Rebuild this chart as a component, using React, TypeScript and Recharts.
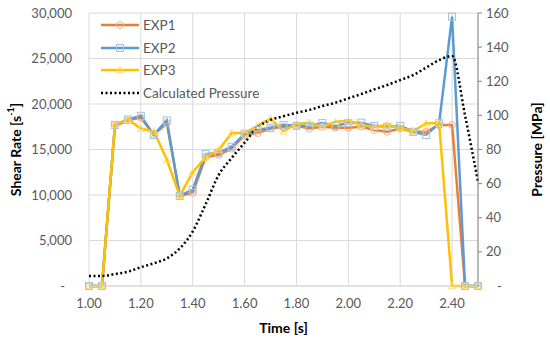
import React from "react";
import {
  ComposedChart,
  Line,
  XAxis,
  YAxis,
  CartesianGrid,
  Legend,
  Label,
} from "recharts";

// time [s], sampled every 0.05 s
const time = [
  1.0, 1.05, 1.1, 1.15, 1.2, 1.25, 1.3, 1.35, 1.4, 1.45, 1.5, 1.55, 1.6, 1.65, 1.7, 1.75,
  1.8, 1.85, 1.9, 1.95, 2.0, 2.05, 2.1, 2.15, 2.2, 2.25, 2.3, 2.35, 2.4, 2.45, 2.5,
];

// shear rate [1/s]
const exp1 = [
  0, 0, 17600, 18200, 18500, 16600, 17900, 9900, 10250, 14200, 14400, 15100, 16600, 16800,
  17300, 17500, 17600, 17300, 17500, 17400, 17400, 17500, 17150, 16950, 17300, 16950, 16950,
  17700, 17700, 0, 0,
];
const exp2 = [
  0, 0, 17700, 18300, 18700, 16600, 18200, 9900, 10600, 14500, 14650, 15300, 16750, 17150,
  17400, 17700, 17600, 17600, 17900, 17600, 17900, 17950, 17600, 17500, 17600, 16950, 16600,
  17880, 29600, 0, 0,
];
const exp3 = [
  0, 0, 17700, 18300, 17300, 17000, 13900, 9900, 12500, 14150, 14950, 16800, 16800, 17600,
  18400, 17000, 17800, 17950, 17500, 18050, 18150, 17700, 17500, 17700, 17400, 17000, 17880,
  17880, 0, 0, 0,
];

// calculated pressure [MPa]
const pressure = [
  5.9, 5.9, 7, 8.4, 11, 13.3, 16.2, 22, 32, 48, 65, 75, 84, 93, 97.3, 99.5, 101.5, 103.2,
  105.5, 107.4, 110, 112.5, 115.2, 117.8, 120.7, 123.6, 128, 132.4, 134.8, 100, 61,
];

const xTicks = [1.0, 1.2, 1.4, 1.6, 1.8, 2.0, 2.2, 2.4];
const leftTicks = [0, 5000, 10000, 15000, 20000, 25000, 30000];
const rightTicks = [0, 20, 40, 60, 80, 100, 120, 140, 160];
const legendOrder = ["exp1", "exp2", "exp3", "pressure"];

const data = time.map((t, i) => ({
  time: t,
  exp1: exp1[i],
  exp2: exp2[i],
  exp3: exp3[i],
  pressure: pressure[i],
}));

const FONT = "Lato, 'Open Sans', sans-serif";
const TEXT = "#595959";

const seriesStyle: Record<string, { color: string; marker: string; shape: string }> = {
  exp1: { color: "#ED7D31", marker: "#F4B183", shape: "circle" },
  exp2: { color: "#5B9BD5", marker: "#9DC3E6", shape: "square" },
  exp3: { color: "#FFC000", marker: "#FFD966", shape: "triangle" },
};

function Marker({ cx, cy, shape, color }: any) {
  if (cx == null || cy == null) return null;
  const r = 3.5;
  if (shape === "circle")
    return <circle cx={cx} cy={cy} r={r} fill="none" stroke={color} strokeWidth={1} />;
  if (shape === "square")
    return (
      <rect x={cx - r} y={cy - r} width={r * 2} height={r * 2} fill="none" stroke={color} strokeWidth={1} />
    );
  return (
    <polygon
      points={`${cx},${cy - r} ${cx + r},${cy + r * 0.8} ${cx - r},${cy + r * 0.8}`}
      fill="none"
      stroke={color}
      strokeWidth={1}
    />
  );
}

function LeftTick({ x, y, payload }: any) {
  const zero = payload.value === 0;
  return (
    <text x={zero ? x - 7 : x} y={y} dy="0.355em" textAnchor="end" fill={TEXT} fontSize={13} fontFamily={FONT}>
      {zero ? "-" : payload.value.toLocaleString("en-US")}
    </text>
  );
}

function RightTick({ x, y, payload }: any) {
  const zero = payload.value === 0;
  return (
    <text x={zero ? x + 11 : x} y={y} dy="0.355em" textAnchor="start" fill={TEXT} fontSize={13} fontFamily={FONT}>
      {zero ? "-" : payload.value}
    </text>
  );
}

function LegendContent({ payload }: any) {
  const items = [...(payload || [])].sort(
    (a: any, b: any) => legendOrder.indexOf(a.dataKey) - legendOrder.indexOf(b.dataKey)
  );
  return (
    <div style={{ fontFamily: FONT, fontSize: 13.5, color: TEXT }}>
      {items.map((p: any) => {
        const st = seriesStyle[p.dataKey];
        return (
          <div key={p.dataKey} style={{ display: "flex", alignItems: "center", height: 22.6 }}>
            <svg width={42} height={12} style={{ marginRight: 2 }}>
              {st ? (
                <>
                  <line x1={2} y1={6} x2={40} y2={6} stroke={st.color} strokeWidth={2.5} />
                  <Marker cx={21} cy={6} shape={st.shape} color={st.marker} />
                </>
              ) : (
                <line x1={2} y1={6} x2={40} y2={6} stroke="#000" strokeWidth={2.5} strokeDasharray="2 2.5" />
              )}
            </svg>
            <span>{p.value}</span>
          </div>
        );
      })}
    </div>
  );
}

export default function App() {
  return (
    <div style={{ width: 550, height: 341, background: "#fff" }}>
      <style>{`body{margin:0}`}</style>
      <ComposedChart width={550} height={341} data={data} margin={{ top: 13, right: 0, bottom: 0, left: 0 }}>
        <CartesianGrid stroke="#d9d9d9" yAxisId="left" />
        <XAxis
          dataKey="time"
          type="number"
          domain={[1, 2.5]}
          ticks={xTicks}
          interval={0}
          height={55}
          tickFormatter={(v: number) => v.toFixed(2)}
          tick={{ fill: TEXT, fontSize: 13, fontFamily: FONT }}
          tickLine={false}
          tickSize={0}
          tickMargin={13}
          axisLine={{ stroke: "#d9d9d9" }}
        >
          <Label
            content={({ viewBox }: any) => {
              const vb = viewBox || { x: 89, y: 286, width: 389 };
              return (
                <text x={vb.x + vb.width / 2} y={vb.y + 47} textAnchor="middle" fontSize={14} fontWeight="bold" fontFamily={FONT} fill="#000">
                  Time [s]
                </text>
              );
            }}
          />
        </XAxis>
        <YAxis
          yAxisId="left"
          width={89}
          domain={[0, 30000]}
          ticks={leftTicks}
          interval={0}
          tick={<LeftTick />}
          tickLine={false}
          tickSize={0}
          tickMargin={17}
          axisLine={false}
        >
          <Label
            content={({ viewBox }: any) => {
              const vb = viewBox || { x: 0, y: 13, height: 273 };
              const cx = vb.x + 15;
              const cy = vb.y + vb.height / 2;
              return (
                <text transform={`translate(${cx},${cy}) rotate(-90)`} textAnchor="middle" dominantBaseline="central" fontSize={14} fontWeight="bold" fontFamily={FONT} fill="#000">
                  Shear Rate [s
                  <tspan dy={-5} fontSize={9}>-1</tspan>
                  <tspan dy={5}>]</tspan>
                </text>
              );
            }}
          />
        </YAxis>
        <YAxis
          yAxisId="right"
          orientation="right"
          width={72}
          domain={[0, 160]}
          ticks={rightTicks}
          interval={0}
          tick={<RightTick />}
          tickLine={{ stroke: "#868686" }}
          tickSize={4}
          tickMargin={4}
          axisLine={{ stroke: "#868686" }}
        >
          <Label
            content={({ viewBox }: any) => {
              const vb = viewBox || { x: 478, y: 13, height: 273 };
              const cx = vb.x + 58;
              const cy = vb.y + vb.height / 2;
              return (
                <text transform={`translate(${cx},${cy}) rotate(-90)`} textAnchor="middle" dominantBaseline="central" fontSize={14} fontWeight="bold" fontFamily={FONT} fill="#000">
                  Pressure [MPa]
                </text>
              );
            }}
          />
        </YAxis>
        <Legend
          layout="horizontal"
          verticalAlign="middle"
          align="center"
          wrapperStyle={{ top: 14, left: 99, width: 180, height: 92 }}
          content={<LegendContent />}
        />
        {(["exp1", "exp2", "exp3"] as const).map((k, i) => (
          <Line
            key={k}
            yAxisId="left"
            dataKey={k}
            name={`EXP${i + 1}`}
            type="linear"
            stroke={seriesStyle[k].color}
            strokeWidth={2.5}
            dot={(p: any) => (
              <Marker key={`${k}-${p.index}`} cx={p.cx} cy={p.cy} shape={seriesStyle[k].shape} color={seriesStyle[k].marker} />
            )}
            activeDot={false}
            isAnimationActive={false}
          />
        ))}
        <Line
          yAxisId="right"
          dataKey="pressure"
          name="Calculated Pressure"
          type="monotone"
          stroke="#000"
          strokeWidth={2.5}
          strokeDasharray="2 2.5"
          dot={false}
          activeDot={false}
          isAnimationActive={false}
        />
      </ComposedChart>
    </div>
  );
}
